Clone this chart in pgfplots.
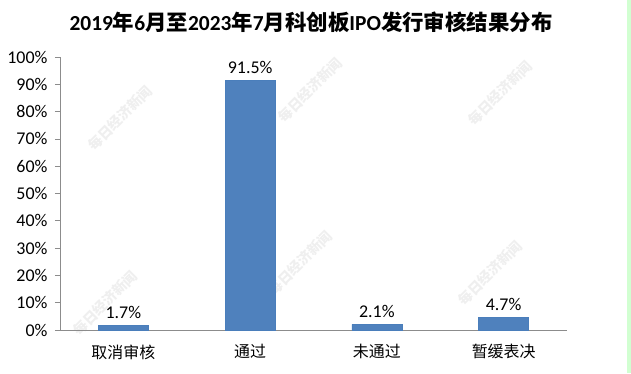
\documentclass[border=0pt]{standalone}
\usepackage{fontspec}
\setmainfont{Carlito}
\newfontfamily\cjk{Noto Sans CJK SC}
\usepackage{pgfplots}
\pgfplotsset{compat=1.18}
\definecolor{barblue}{HTML}{4F81BD}
\definecolor{baredge}{HTML}{4A7EBB}
\definecolor{axgray}{HTML}{8C8C8C}
\definecolor{wm}{HTML}{EFEFEF}
\begin{document}
\begin{tikzpicture}[x=1bp,y=1bp]
\path[use as bounding box, fill=white] (0,0) rectangle (631,373);
\fill[green!18] (627,0) rectangle (631,373);
\node[font=\fontsize{21.5}{24}\selectfont\bfseries] at (311,351) {2019{\cjk 年}6{\cjk 月至}2023{\cjk 年}7{\cjk 月科创板}IPO{\cjk 发行审核结果分布}};
\foreach \wx/\wy in {120/255, 310/283, 500/280, 105/70, 300/110, 490/100}
  \node[rotate=45, text=wm, font=\fontsize{14}{16}\selectfont\cjk\bfseries] at (\wx,\wy) {每日经济新闻};
\begin{axis}[
  at={(60bp,43bp)}, anchor=south west,
  scale only axis, width=507bp, height=273bp,
  ymin=0, ymax=100, xmin=-0.5, xmax=3.5,
  axis x line*=bottom, axis y line*=left,
  axis line style={axgray, line width=0.8pt},
  every tick/.style={axgray, line width=0.8pt},
  tick align=outside,
  ytick={0,10,...,100},
  yticklabel={\pgfmathprintnumber{\tick}\%},
  /pgf/number format/assume math mode=true,
  major tick length=5bp,
  xtick={0,1,2,3},
  xticklabels={取消审核,通过,未通过,暂缓表决},
  x tick label style={font=\fontsize{16}{18}\selectfont\cjk, yshift=-6bp},
  y tick label style={font=\fontsize{18}{20}\selectfont, xshift=-4bp},
  xtick style={draw=none},
  minor xtick={-0.5,0.5,1.5,2.5,3.5},
  minor tick length=5bp,
  minor x tick style={axgray, line width=0.8pt},
  ybar, bar width=50bp,
  nodes near coords={\pgfmathprintnumber[fixed,precision=1,fixed zerofill]{\pgfplotspointmeta}\%},
  nodes near coords style={font=\fontsize{18}{20}\selectfont, text=black, yshift=3bp},
  clip=false,
]
\addplot[fill=barblue, draw=baredge] coordinates {(0,1.7) (1,91.5) (2,2.1) (3,4.7)};
\end{axis}
\end{tikzpicture}
\end{document}
